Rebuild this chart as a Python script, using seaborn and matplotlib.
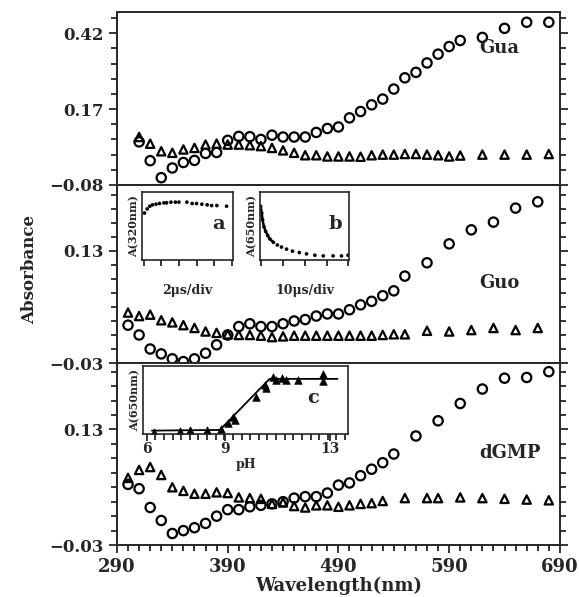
import numpy as np
import pandas as pd
import seaborn as sns
import matplotlib.pyplot as plt
from matplotlib.ticker import MultipleLocator, FixedLocator

# --- main spectra (wavelength in nm, absorbance) ---
gua_wl = [310, 320, 330, 340, 350, 360, 370, 380, 390, 400, 410, 420, 430, 440, 450, 460, 470,
          480, 490, 500, 510, 520, 530, 540, 550, 560, 570, 580, 590, 600, 620, 640, 660, 680]
gua_circ = [0.062, 0.000, -0.056, -0.024, -0.006, 0.001, 0.024, 0.027, 0.067, 0.080, 0.079, 0.070,
            0.084, 0.078, 0.078, 0.078, 0.093, 0.106, 0.111, 0.141, 0.162, 0.184, 0.203, 0.236,
            0.273, 0.291, 0.322, 0.351, 0.376, 0.396, 0.406, 0.436, 0.456, 0.456]
gua_tri = [0.078, 0.056, 0.031, 0.026, 0.037, 0.042, 0.053, 0.056, 0.053, 0.053, 0.051, 0.048,
           0.042, 0.034, 0.026, 0.018, 0.018, 0.014, 0.014, 0.014, 0.013, 0.018, 0.020, 0.020,
           0.022, 0.022, 0.020, 0.018, 0.014, 0.017, 0.020, 0.020, 0.020, 0.022]

guo_wl = [300, 310, 320, 330, 340, 350, 360, 370, 380, 390, 400, 410, 420, 430, 440, 450, 460,
          470, 480, 490, 500, 510, 520, 530, 540, 550, 570, 590, 610, 630, 650, 670]
guo_circ = [0.024, 0.010, -0.010, -0.017, -0.024, -0.028, -0.024, -0.016, -0.004, 0.010, 0.022,
            0.026, 0.022, 0.022, 0.026, 0.030, 0.032, 0.037, 0.040, 0.040, 0.046, 0.053, 0.058,
            0.066, 0.073, 0.094, 0.113, 0.140, 0.160, 0.171, 0.191, 0.200]
guo_tri = [0.042, 0.037, 0.039, 0.031, 0.028, 0.024, 0.020, 0.015, 0.013, 0.011, 0.010, 0.010,
           0.009, 0.007, 0.008, 0.009, 0.009, 0.009, 0.009, 0.009, 0.009, 0.009, 0.009, 0.010,
           0.011, 0.011, 0.016, 0.015, 0.017, 0.020, 0.017, 0.020]

dgmp_wl_c = [300, 310, 320, 330, 340, 350, 360, 370, 380, 390, 400, 410, 420, 430, 440, 450, 460,
             470, 480, 490, 500, 510, 520, 530, 540, 560, 580, 600, 620, 640, 660, 680]
dgmp_circ = [0.054, 0.048, 0.022, 0.004, -0.014, -0.010, -0.006, 0.000, 0.010, 0.019, 0.019,
             0.023, 0.025, 0.027, 0.030, 0.035, 0.037, 0.037, 0.042, 0.053, 0.056, 0.066, 0.075,
             0.084, 0.096, 0.121, 0.142, 0.166, 0.186, 0.201, 0.202, 0.210]
dgmp_wl_t = [300, 310, 320, 330, 340, 350, 360, 370, 380, 390, 400, 410, 420, 430, 440, 450, 460,
             470, 480, 490, 500, 510, 520, 530, 550, 570, 580, 600, 620, 640, 660, 680]
dgmp_tri = [0.063, 0.074, 0.078, 0.067, 0.050, 0.045, 0.041, 0.041, 0.043, 0.042, 0.036, 0.035,
            0.034, 0.027, 0.029, 0.024, 0.022, 0.025, 0.025, 0.023, 0.025, 0.027, 0.028, 0.031,
            0.035, 0.035, 0.035, 0.036, 0.035, 0.034, 0.033, 0.032]

# --- insets ---
a_t = [0.1, 0.4, 0.7, 1.0, 1.4, 1.8, 2.3, 2.6, 3.1, 3.6, 4.0, 4.9, 5.5, 6.0, 6.6, 7.2, 7.7, 8.3, 9.4]
a_y = [0.69, 0.75, 0.79, 0.81, 0.82, 0.83, 0.84, 0.84, 0.85, 0.85, 0.85, 0.85, 0.83, 0.83, 0.82,
       0.81, 0.80, 0.80, 0.79]
b_t = [0.0, 0.5, 0.9, 1.5, 2.3, 3.2, 4.2, 5.8, 7.6, 9.5, 11.8, 14.5, 17.6, 20.9, 24.7, 28.5, 33.0,
       36.8, 39.8]
b_y = [0.79, 0.69, 0.59, 0.49, 0.42, 0.36, 0.31, 0.26, 0.22, 0.19, 0.16, 0.13, 0.11, 0.09, 0.07,
       0.06, 0.06, 0.06, 0.07]
c_ph = [6.27, 7.28, 7.64, 8.30, 8.83, 9.12, 9.31, 9.38, 10.2, 10.52, 10.58, 10.83, 10.96, 11.19,
        11.34, 11.79, 12.76, 12.76]
c_y = [0.03, 0.05, 0.06, 0.06, 0.07, 0.16, 0.25, 0.20, 0.55, 0.72, 0.67, 0.84, 0.80, 0.82, 0.80,
       0.80, 0.88, 0.78]
c_fit_ph = [6.2, 8.8, 10.7, 13.3]
c_fit_y = [0.05, 0.06, 0.81, 0.81]

sns.set_style("ticks")
plt.rcParams['font.family'] = ['DejaVu Serif']
plt.rcParams['font.weight'] = 'bold'
plt.rcParams['axes.linewidth'] = 1.4

fig, axes = plt.subplots(3, 1, sharex=True, figsize=(5.79, 5.97), dpi=100,
                         gridspec_kw=dict(height_ratios=[173, 178, 182], hspace=0))
fig.subplots_adjust(left=0.202, right=0.967, top=0.980, bottom=0.087)


def open_points(ax, x, y, marker, size):
    sns.scatterplot(x=x, y=y, marker=marker, s=size, ax=ax, linewidth=1.6)
    pts = ax.collections[-1]
    pts.set_facecolor('none')
    pts.set_edgecolor('black')


panels = [
    (gua_wl, gua_circ, gua_wl, gua_tri, (-0.08, 0.49), [-0.08, 0.17, 0.42], 0.05, 'Gua', 0.37),
    (guo_wl, guo_circ, guo_wl, guo_tri, (-0.03, 0.224), [-0.03, 0.13], 0.02, 'Guo', 0.084),
    (dgmp_wl_c, dgmp_circ, dgmp_wl_t, dgmp_tri, (-0.03, 0.222), [-0.03, 0.13], 0.02, 'dGMP', 0.098),
]
for ax, (xc, yc, xt, yt, ylim, majors, minor, name, ny) in zip(axes, panels):
    open_points(ax, xc, yc, 'o', 45)
    open_points(ax, xt, yt, '^', 36)
    ax.set_ylim(*ylim)
    ax.yaxis.set_major_locator(FixedLocator(majors))
    ax.yaxis.set_minor_locator(FixedLocator(np.arange(majors[0], ylim[1], minor)))
    ax.set_yticklabels([f"{v:.2f}".replace('-', '\u2212') for v in majors])
    ax.tick_params(axis='y', which='both', direction='out', right=True, labelsize=12, width=1.3)
    ax.tick_params(axis='y', which='major', length=6)
    ax.tick_params(axis='y', which='minor', length=4)
    ax.text(617, ny, name, fontsize=13, fontweight='bold', va='center')
    ax.set_ylabel('')
    for s in ax.spines.values():
        s.set_visible(True)

axes[2].set_xlim(290, 690)
axes[2].xaxis.set_major_locator(FixedLocator(np.arange(290, 691, 100)))
axes[2].xaxis.set_minor_locator(MultipleLocator(10))
axes[2].tick_params(axis='x', which='both', direction='out', labelsize=13, width=1.3)
axes[2].tick_params(axis='x', which='major', length=6)
axes[2].tick_params(axis='x', which='minor', length=4)
axes[2].set_xlabel('Wavelength(nm)', fontsize=13, fontweight='bold', labelpad=0)
fig.text(0.052, 0.548, 'Absorbance', rotation=90, fontsize=12, fontweight='bold',
         ha='center', va='center')

# inset a
ia = fig.add_axes([0.245, 0.5645, 0.157, 0.114])
sns.scatterplot(x=a_t, y=a_y, ax=ia, s=7, color='black', edgecolor='none')
ia.set_xlim(-0.2, 10.1)
ia.set_ylim(0, 1)
ia.set_xticks(np.arange(0, 11, 2))
ia.set_xticklabels([])
ia.set_yticks([])
ia.tick_params(axis='x', direction='out', length=4, width=1.3)
ia.set_ylabel('A(320nm)', fontsize=8, fontweight='bold', labelpad=2)
ia.set_xlabel('2\u03bcs/div', fontsize=9, fontweight='bold', labelpad=10)
ia.text(0.85, 0.45, 'a', transform=ia.transAxes, fontsize=14, fontweight='bold', ha='center')

# inset b
ib = fig.add_axes([0.449, 0.5645, 0.154, 0.114])
sns.lineplot(x=b_t[:8], y=b_y[:8], ax=ib, color='black', linewidth=1.8)
sns.scatterplot(x=b_t, y=b_y, ax=ib, s=7, color='black', edgecolor='none')
ib.set_xlim(-0.3, 40.3)
ib.set_ylim(0, 1)
ib.set_xticks(np.arange(0, 41, 10))
ib.set_xticklabels([])
ib.set_yticks([])
ib.tick_params(axis='x', direction='out', length=4, width=1.3)
ib.set_ylabel('A(650nm)', fontsize=8, fontweight='bold', labelpad=2)
ib.set_xlabel('10\u03bcs/div', fontsize=9, fontweight='bold', labelpad=10)
ib.text(0.85, 0.45, 'b', transform=ib.transAxes, fontsize=14, fontweight='bold', ha='center')

# inset c
ic = fig.add_axes([0.247, 0.273, 0.354, 0.114])
sns.lineplot(x=c_fit_ph, y=c_fit_y, ax=ic, color='black', linewidth=1.3)
sns.scatterplot(x=c_ph, y=c_y, ax=ic, marker='^', s=30, color='black', edgecolor='black')
ic.set_xlim(5.86, 13.7)
ic.set_ylim(0, 1)
ic.set_xticks([6, 9, 13])
ic.xaxis.set_minor_locator(FixedLocator(np.arange(6, 13.7, 0.33)))
ic.set_yticks([])
ic.tick_params(axis='x', which='both', direction='out', width=1.3, labelsize=10)
ic.tick_params(axis='x', which='major', length=5, pad=1)
ic.tick_params(axis='x', which='minor', length=4)
ic.set_ylabel('A(650nm)', fontsize=8, fontweight='bold', labelpad=2)
ic.set_xlabel('pH', fontsize=9, fontweight='bold', labelpad=1)
ic.text(0.83, 0.45, 'c', transform=ic.transAxes, fontsize=14, fontweight='bold', ha='center')

for inset in (ia, ib, ic):
    for s in inset.spines.values():
        s.set_visible(True)
        s.set_linewidth(1.2)

fig.savefig('out.png', dpi=100)
